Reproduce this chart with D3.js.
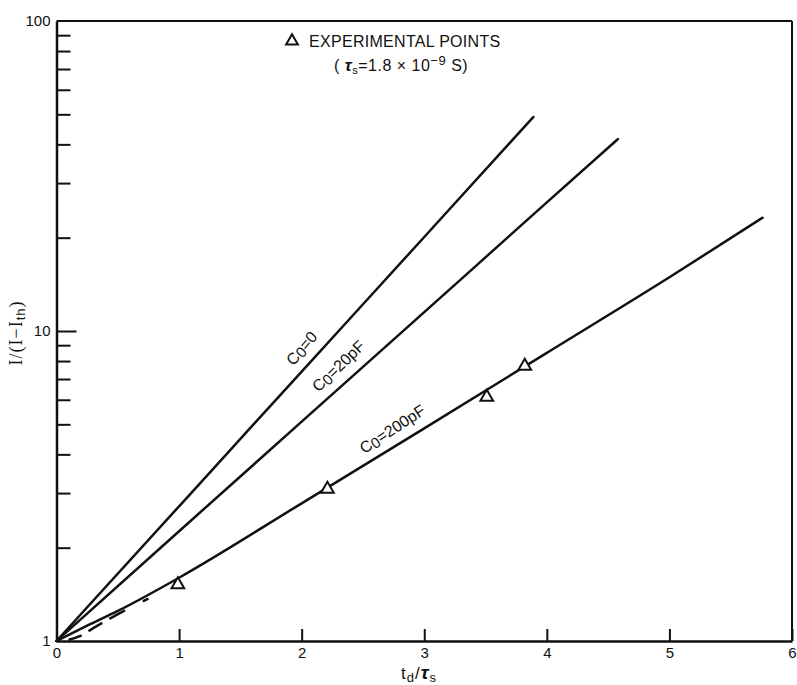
<!DOCTYPE html>
<html>
<head>
<meta charset="utf-8">
<script src="https://cdn.jsdelivr.net/npm/d3@7"></script>
<style>
  body { margin: 0; background: #fff; }
  text { font-family: "Liberation Sans", Arial, sans-serif; fill: #111; }
</style>
</head>
<body>
<script>
// axis values
var xTicks = [0, 1, 2, 3, 4, 5, 6];
var yMajor = [1, 10, 100];
var yMinor = [2, 3, 4, 5, 6, 7, 8, 9, 20, 30, 40, 50, 60, 70, 80, 90];

// curves
var c0X = [0, 1, 2, 3, 3.89];
var c0Y = [1, 2.72, 7.4, 20.1, 49];
var c20X = [0, 1, 2, 3, 4, 4.58];
var c20Y = [1, 2.26, 5.1, 11.5, 26, 41.6];
var c200X = [0, 0.25, 0.5, 1, 2, 3, 4, 5, 5.76];
var c200Y = [1, 1.12, 1.25, 1.6, 2.78, 4.85, 8.5, 14.9, 23.2];
var dashX = [0, 0.1, 0.2, 0.3, 0.45, 0.6, 0.75];
var dashY = [1, 1.01, 1.04, 1.10, 1.19, 1.28, 1.37];

// experimental points
var expX = [0.99, 2.21, 3.51, 3.82];
var expY = [1.52, 3.09, 6.12, 7.71];

// curve labels
var labelSub = ["0", "0", "0"];
var labelRest = ["=0", "=20pF", "=200pF"];
var labelX = [2.0, 2.3, 2.74];
var labelY = [8.8, 7.71, 4.83];

var W = 797, H = 685;
var margin = {top: 21, right: 5, bottom: 44, left: 56.5};

var svg = d3.select("body").append("svg")
    .attr("width", W)
    .attr("height", H);

var x = d3.scaleLinear().domain([0, 6]).range([margin.left, W - margin.right]);
var y = d3.scaleLog().domain([1, 100]).range([H - margin.bottom, margin.top]);

function pts(xs, ys) {
    return xs.map(function(v, i) { return [v, ys[i]]; });
}

var line = d3.line()
    .x(function(d) { return x(d[0]); })
    .y(function(d) { return y(d[1]); })
    .curve(d3.curveMonotoneX);

// frame top / right
svg.append("line")
    .attr("x1", x(0)).attr("x2", x(6))
    .attr("y1", y(100)).attr("y2", y(100))
    .attr("stroke", "#111").attr("stroke-width", 2);
svg.append("line")
    .attr("x1", x(6)).attr("x2", x(6))
    .attr("y1", y(100)).attr("y2", y(1))
    .attr("stroke", "#111").attr("stroke-width", 2);

// x axis, ticks pointing up
var xa = svg.append("g")
    .attr("transform", "translate(0," + y(1) + ")")
    .call(d3.axisBottom(x).tickValues(xTicks).tickSize(-12).tickSizeOuter(0).tickPadding(6)
        .tickFormat(d3.format("d")));

// y axis minor ticks
var ym = svg.append("g")
    .attr("transform", "translate(" + x(0) + ",0)")
    .call(d3.axisLeft(y).tickValues(yMinor).tickSize(-14).tickSizeOuter(0).tickFormat(""));
ym.select(".domain").remove();

// y axis major ticks + labels
var ya = svg.append("g")
    .attr("transform", "translate(" + x(0) + ",0)")
    .call(d3.axisLeft(y).tickValues(yMajor).tickSize(-20).tickSizeOuter(0).tickPadding(6)
        .tickFormat(d3.format("d")));

[xa, ya].forEach(function(g) {
    g.attr("font-size", 15).attr("font-family", "'Liberation Sans', Arial, sans-serif");
    g.selectAll(".tick text").attr("fill", "#111").style("font-size", "15px");
});
svg.selectAll(".domain").attr("stroke", "#111").attr("stroke-width", 2.5);
svg.selectAll(".tick line").attr("stroke", "#111").attr("stroke-width", 2);
ya.selectAll(".tick text").attr("dy", "0.3em");
ya.selectAll(".tick line").filter(function(d) { return d === 1 || d === 100; }).remove();

// curves
[[c0X, c0Y], [c20X, c20Y], [c200X, c200Y]].forEach(function(s) {
    svg.append("path")
        .datum(pts(s[0], s[1]))
        .attr("d", line)
        .attr("fill", "none")
        .attr("stroke", "#111")
        .attr("stroke-width", 2.5)
        .attr("stroke-linecap", "round");
});

svg.append("path")
    .datum(pts(dashX, dashY))
    .attr("d", line)
    .attr("fill", "none")
    .attr("stroke", "#111")
    .attr("stroke-width", 2.5)
    .attr("stroke-dasharray", "0 12 14 8 16 8 18 8");

// triangles
var tri = d3.symbol().type(d3.symbolTriangle).size(70);
svg.selectAll(".exp")
    .data(pts(expX, expY))
    .enter().append("path")
    .attr("class", "exp")
    .attr("d", tri)
    .attr("transform", function(d) { return "translate(" + x(d[0]) + "," + y(d[1]) + ")"; })
    .attr("fill", "#fff")
    .attr("stroke", "#111")
    .attr("stroke-width", 2);

// curve labels rotated along the line
var series = [[c0X, c0Y], [c20X, c20Y], [c200X, c200Y]];
function angleAt(xs, ys, xv) {
    var i = 0;
    while (i < xs.length - 2 && xs[i + 1] < xv) i++;
    var dx = x(xs[i + 1]) - x(xs[i]), dy = y(ys[i + 1]) - y(ys[i]);
    return Math.atan2(dy, dx) * 180 / Math.PI;
}
labelX.forEach(function(lx, i) {
    var a = angleAt(series[i][0], series[i][1], lx);
    var t = svg.append("text")
        .attr("transform", "translate(" + x(lx) + "," + y(labelY[i]) + ") rotate(" + (a - 2) + ")")
        .attr("text-anchor", "middle")
        .attr("dy", "0.35em")
        .style("font-size", "16px");
    t.append("tspan").text("C");
    t.append("tspan").attr("dy", 2).style("font-size", "15px").text(labelSub[i]);
    t.append("tspan").attr("dy", -2).text(labelRest[i]);
});

// legend
svg.append("path")
    .attr("d", d3.symbol().type(d3.symbolTriangle).size(60))
    .attr("transform", "translate(292,41)")
    .attr("fill", "#fff").attr("stroke", "#111").attr("stroke-width", 2);
svg.append("text")
    .attr("x", 309).attr("y", 47)
    .style("font-size", "16px")
    .style("letter-spacing", "0.3px")
    .text("EXPERIMENTAL POINTS");
var leg2 = svg.append("text")
    .attr("x", 334).attr("y", 71)
    .style("font-size", "16px")
    .style("letter-spacing", "0.5px");
leg2.append("tspan").text("( ");
leg2.append("tspan").style("font-style", "italic").style("font-weight", "bold")
    .style("font-size", "17px").text("τ");
leg2.append("tspan").attr("dy", 3).style("font-size", "11px").text("s");
leg2.append("tspan").attr("dy", -3).text("=1.8 × 10");
leg2.append("tspan").attr("dy", -6).style("font-size", "13px").text("−9");
leg2.append("tspan").attr("dy", 6).text(" S)");

// axis titles
var xt = svg.append("text")
    .attr("x", 419).attr("y", 679)
    .attr("text-anchor", "middle")
    .style("font-size", "17px")
    .style("letter-spacing", "1px");
xt.append("tspan").text("t");
xt.append("tspan").attr("dy", 3).style("font-size", "13px").text("d");
xt.append("tspan").attr("dy", -3).text("/");
xt.append("tspan").style("font-style", "italic").style("font-weight", "bold")
    .style("font-size", "19px").text("τ");
xt.append("tspan").attr("dy", 3).style("font-size", "13px").text("s");

var yt = svg.append("text")
    .attr("transform", "translate(22,333) rotate(-90)")
    .attr("text-anchor", "middle")
    .style("font-family", "'Liberation Serif', serif")
    .style("font-size", "18px")
    .style("letter-spacing", "1px");
yt.append("tspan").text("I/(I−I");
yt.append("tspan").attr("dy", 3).style("font-size", "13px")
    .style("font-family", "'Liberation Sans', sans-serif").text("th");
yt.append("tspan").attr("dy", -3).text(")");
</script>
</body>
</html>
